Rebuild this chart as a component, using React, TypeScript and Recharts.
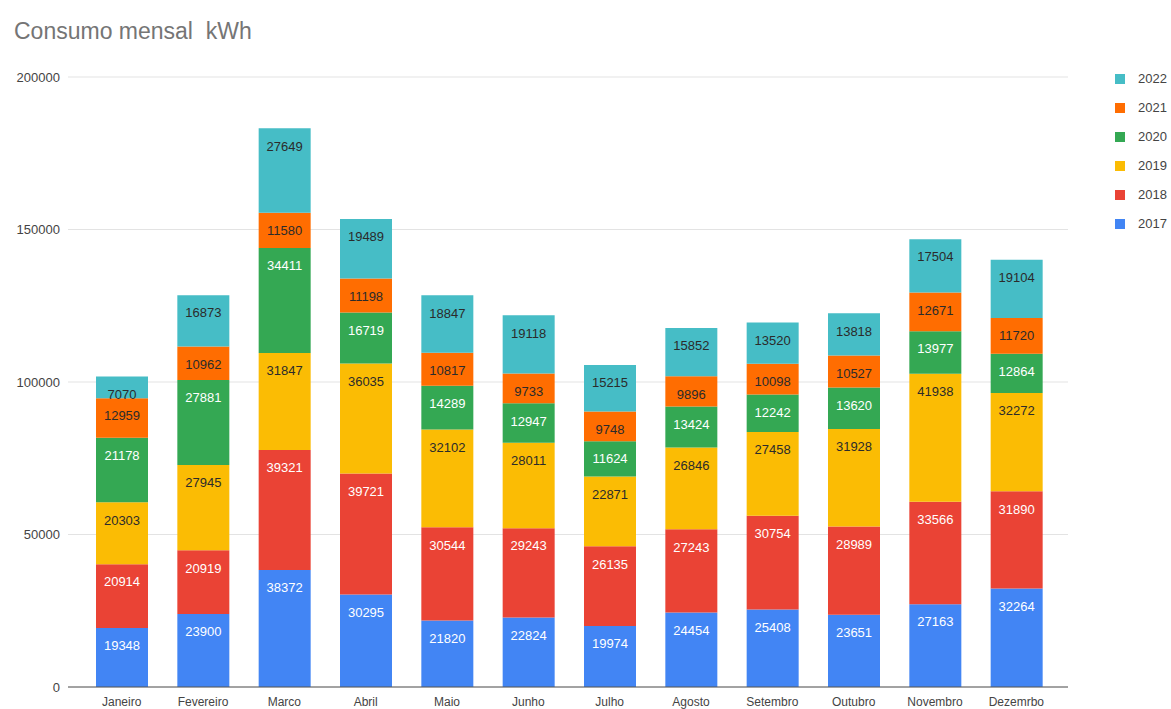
import { BarChart, Bar, XAxis, YAxis, CartesianGrid, Legend, LabelList } from "recharts"

const months = [
  "Janeiro", "Fevereiro", "Marco", "Abril", "Maio", "Junho",
  "Julho", "Agosto", "Setembro", "Outubro", "Novembro", "Dezemrbo",
]

const y2017 = [19348, 23900, 38372, 30295, 21820, 22824, 19974, 24454, 25408, 23651, 27163, 32264]
const y2018 = [20914, 20919, 39321, 39721, 30544, 29243, 26135, 27243, 30754, 28989, 33566, 31890]
const y2019 = [20303, 27945, 31847, 36035, 32102, 28011, 22871, 26846, 27458, 31928, 41938, 32272]
const y2020 = [21178, 27881, 34411, 16719, 14289, 12947, 11624, 13424, 12242, 13620, 13977, 12864]
const y2021 = [12959, 10962, 11580, 11198, 10817, 9733, 9748, 9896, 10098, 10527, 12671, 11720]
const y2022 = [7070, 16873, 27649, 19489, 18847, 19118, 15215, 15852, 13520, 13818, 17504, 19104]

const yTicks = [0, 50000, 100000, 150000, 200000]

const series = [
  { key: "2017", values: y2017, color: "#4285f4", text: "#ffffff" },
  { key: "2018", values: y2018, color: "#ea4335", text: "#ffffff" },
  { key: "2019", values: y2019, color: "#fbbc04", text: "#2b2b2b" },
  { key: "2020", values: y2020, color: "#34a853", text: "#ffffff" },
  { key: "2021", values: y2021, color: "#ff6d01", text: "#2b2b2b" },
  { key: "2022", values: y2022, color: "#46bdc6", text: "#2b2b2b" },
]

const data = months.map((month, i) => {
  const row: Record<string, string | number> = { month }
  series.forEach((s) => {
    row[s.key] = s.values[i]
  })
  return row
})

const font = "'Liberation Sans', Arial, sans-serif"

const YearLegend = () => (
  <div style={{ fontFamily: font, fontSize: 13, color: "#444" }}>
    {[...series].reverse().map((s) => (
      <div key={s.key} style={{ display: "flex", alignItems: "center", height: 29 }}>
        <span style={{ width: 10, height: 10, background: s.color, marginRight: 13 }} />
        <span>{s.key}</span>
      </div>
    ))}
  </div>
)

const App = () => {
  return (
    <div style={{ position: "absolute", left: 0, top: 0, width: 1171, height: 709, background: "#fff" }}>
      <div
        style={{
          position: "absolute",
          left: 14,
          top: 20,
          fontFamily: font,
          fontSize: 23,
          lineHeight: 1,
          color: "#757575",
          whiteSpace: "pre",
        }}
      >
        Consumo mensal  kWh
      </div>
      <BarChart
        width={1171}
        height={709}
        data={data}
        margin={{ top: 77, right: 103, left: 0, bottom: 0 }}
        style={{ fontFamily: font }}
      >
        <CartesianGrid vertical={false} stroke="#e3e3e3" />
        <XAxis
          dataKey="month"
          height={22}
          padding={{ left: 13, right: 11 }}
          tickLine={false}
          tickMargin={4}
          axisLine={{ stroke: "#555" }}
          tick={{ fill: "#444", fontSize: 12 }}
          interval={0}
        />
        <YAxis
          width={68}
          domain={[0, 200000]}
          ticks={yTicks}
          axisLine={false}
          tickLine={false}
          tick={{ fill: "#444", fontSize: 13 }}
        />
        <Legend
          layout="vertical"
          align="center"
          verticalAlign="middle"
          content={() => <YearLegend />}
          wrapperStyle={{ left: 1115, top: 64, width: 56 }}
        />
        {series.map((s) => (
          <Bar
            key={s.key}
            dataKey={s.key}
            stackId="a"
            fill={s.color}
            barSize={52}
            isAnimationActive={false}
          >
            <LabelList
              dataKey={s.key}
              position="insideTop"
              offset={13}
              fill={s.text}
              fontSize={13}
            />
          </Bar>
        ))}
      </BarChart>
    </div>
  )
}

export default App
